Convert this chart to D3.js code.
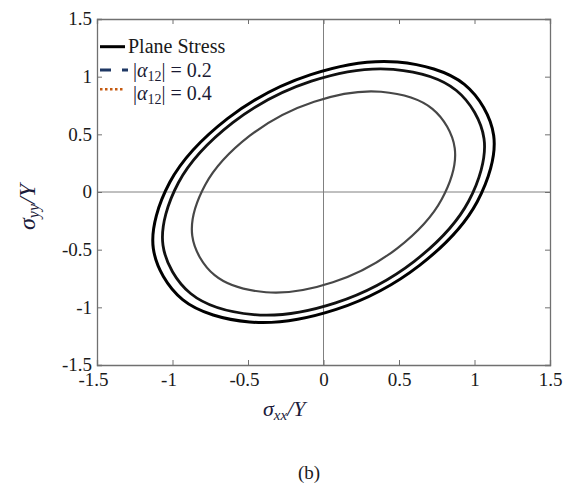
<!DOCTYPE html>
<html>
<head>
<meta charset="utf-8">
<script src="https://cdn.jsdelivr.net/npm/d3@7"></script>
<style>
  body { margin: 0; background: #fff; }
  svg text { font-family: "Liberation Serif", "Times New Roman", "DejaVu Serif", serif; }
</style>
</head>
<body>
<script>
// tick values (both axes)
const tickVals = [-1.5, -1, -0.5, 0, 0.5, 1, 1.5];

// yield surfaces, [sxx/Y, syy/Y]
const planeStress = [[0.933, 0.933], [0.490, 1.127], [-0.084, 1.018], [-0.636, 0.636],
  [-1.018, 0.084], [-1.127, -0.490], [-0.933, -0.933], [-0.490, -1.127],
  [0.084, -1.018], [0.636, -0.636], [1.018, -0.084], [1.127, 0.490]];
const alpha02 = [[0.880, 0.880], [0.462, 1.063], [-0.080, 0.961], [-0.601, 0.601],
  [-0.961, 0.080], [-1.063, -0.462], [-0.880, -0.880], [-0.462, -1.063],
  [0.080, -0.961], [0.601, -0.601], [0.961, -0.080], [1.063, 0.462]];
const alpha04 = [[0.721, 0.721], [0.381, 0.869], [-0.062, 0.783], [-0.488, 0.488],
  [-0.783, 0.062], [-0.869, -0.381], [-0.721, -0.721], [-0.381, -0.869],
  [0.062, -0.783], [0.488, -0.488], [0.783, -0.062], [0.869, 0.381]];

const w = 567, h = 486;
const mLeft = 97, mRight = 550, mTop = 19, mBottom = 365;
const serif = "'Liberation Serif', 'Times New Roman', serif";

const x = d3.scaleLinear().domain([-1.5, 1.5]).range([mLeft, mRight]);
const y = d3.scaleLinear().domain([-1.5, 1.5]).range([mBottom, mTop]);

const svg = d3.select("body").append("svg")
  .attr("width", w).attr("height", h)
  .style("font-family", serif);

// zero lines
svg.append("line")
  .attr("x1", x(-1.5)).attr("x2", x(1.5)).attr("y1", y(0)).attr("y2", y(0))
  .attr("stroke", "#808080").attr("stroke-width", 1);
svg.append("line")
  .attr("x1", x(0)).attr("x2", x(0)).attr("y1", y(-1.5)).attr("y2", y(1.5))
  .attr("stroke", "#808080").attr("stroke-width", 1);

const line = d3.line()
  .x(d => x(d[0])).y(d => y(d[1]))
  .curve(d3.curveCatmullRomClosed);

svg.append("path").attr("d", line(alpha04))
  .attr("fill", "none").attr("stroke", "#474747").attr("stroke-width", 2.2);
svg.append("path").attr("d", line(alpha02))
  .attr("fill", "none").attr("stroke", "#111").attr("stroke-width", 2.8);
svg.append("path").attr("d", line(planeStress))
  .attr("fill", "none").attr("stroke", "#000").attr("stroke-width", 3);

// axes with inward ticks
const fmt = d => String(d);
const gx = svg.append("g").attr("transform", `translate(0,${mBottom})`)
  .call(d3.axisBottom(x).tickValues(tickVals).tickSize(-5).tickPadding(7.5).tickFormat(fmt));
gx.selectAll("text").attr("dx", d => d < 0 ? -4 : 0);
svg.append("g").attr("transform", `translate(0,${mTop})`)
  .call(d3.axisTop(x).tickValues(tickVals).tickSize(-5).tickFormat(""));
const gy = svg.append("g").attr("transform", `translate(${mLeft},0)`)
  .call(d3.axisLeft(y).tickValues(tickVals).tickSize(-5).tickPadding(5).tickFormat(fmt));
svg.append("g").attr("transform", `translate(${mRight},0)`)
  .call(d3.axisRight(y).tickValues(tickVals).tickSize(-5).tickFormat(""));

svg.selectAll("g").attr("font-family", null);
svg.selectAll(".domain").attr("stroke", "#707070").attr("stroke-width", 1.3);
svg.selectAll(".tick line").attr("stroke", "#707070");
svg.selectAll(".tick text")
  .style("font-family", serif).attr("font-size", 19).attr("fill", "#1a1a1a");
gy.selectAll("text").attr("dy", "0.3em");

// legend
const lg = svg.append("g");
lg.append("line").attr("x1", 100).attr("x2", 125).attr("y1", 46.7).attr("y2", 46.7)
  .attr("stroke", "#000").attr("stroke-width", 3);
lg.append("text").attr("x", 128).attr("y", 53.3).attr("font-size", 20)
  .attr("fill", "#1a1a1a").text("Plane Stress");

lg.append("line").attr("x1", 100).attr("x2", 128).attr("y1", 70).attr("y2", 70)
  .attr("stroke", "#1f3864").attr("stroke-width", 3).attr("stroke-dasharray", "11,11");
lg.append("line").attr("x1", 100).attr("x2", 125).attr("y1", 89.3).attr("y2", 89.3)
  .attr("stroke", "#c55a11").attr("stroke-width", 2.5).attr("stroke-dasharray", "2.5,2.5");

function alphaLabel(ty, val) {
  const t = lg.append("text").attr("x", 133).attr("y", ty).attr("font-size", 20)
    .attr("fill", "#1a1a33");
  t.append("tspan").text("|");
  t.append("tspan").attr("font-style", "italic").text("α");
  t.append("tspan").attr("font-size", 14).attr("dy", 4).text("12");
  t.append("tspan").attr("dy", -4).text("| = " + val);
}
alphaLabel(76.7, "0.2");
alphaLabel(100, "0.4");

// axis titles
const xt = svg.append("text").attr("x", 263).attr("y", 416)
  .attr("font-size", 22).attr("fill", "#1b1b3a").attr("font-style", "italic");
xt.append("tspan").text("σ");
xt.append("tspan").attr("font-size", 15).attr("dy", 4).text("xx");
xt.append("tspan").attr("dy", -4).text("/Y");

const yt = svg.append("text").attr("transform", "translate(35,207) rotate(-90)")
  .attr("text-anchor", "middle")
  .attr("font-size", 24).attr("fill", "#1b1b3a").attr("font-style", "italic");
yt.append("tspan").text("σ");
yt.append("tspan").attr("font-size", 16).attr("dy", 4).text("yy");
yt.append("tspan").attr("dy", -4).text("/Y");

svg.append("text").attr("x", 309).attr("y", 479).attr("text-anchor", "middle")
  .attr("font-size", 19).attr("fill", "#1a1a1a").text("(b)");
</script>
</body>
</html>
